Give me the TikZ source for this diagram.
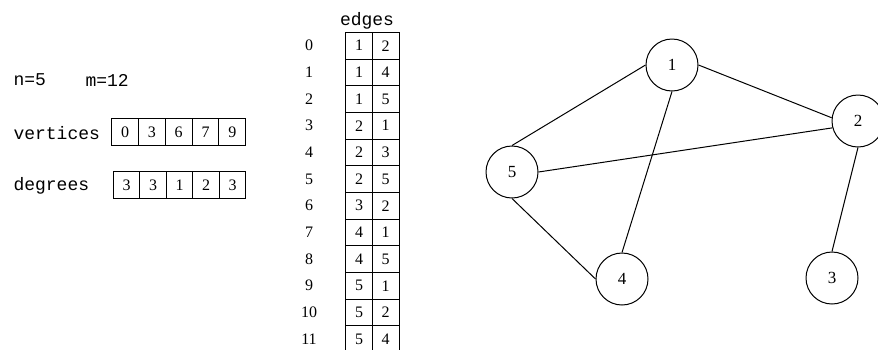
\documentclass[tikz,border=0pt]{standalone}
\usepackage{fontspec}
\setmainfont{Liberation Serif}
\setmonofont{Liberation Mono}
\newcommand*{\word}[1]{\fontsize{18}{20}\selectfont\ttfamily #1}

\tikzset{
  cell/.style={draw,minimum width=26.7pt,minimum height=26.7pt,inner sep=0pt,
    font=\fontsize{16}{18}\selectfont},
  idx/.style={inner sep=0pt,font=\fontsize{16}{18}\selectfont},
  vtx/.style={draw,circle,minimum size=52pt,inner sep=0pt,
    font=\fontsize{17}{20}\selectfont}
}

\begin{document}
\begin{tikzpicture}[x=1pt,y=-1pt,line width=1pt]
\clip (0,0) rectangle (878,349);
% Sizes and the two arrays
\node[anchor=west,inner sep=0pt] (nval) at (13,80) {\word{n=5}};
\node[anchor=west,inner sep=0pt] (mval) at (85,80) {\word{m=12}};
\node[anchor=west,inner sep=0pt] (vert) at (13,133) {\word{vertices}};
\node[anchor=west,inner sep=0pt] (deg) at (13,186) {\word{degrees}};
\foreach \v [count=\i from 0] in {0,3,6,7,9}
  \node[cell] (vt\i) at (125.1+26.8*\i,132.3) {\v};
\foreach \v [count=\i from 0] in {3,3,1,2,3}
  \node[cell] (dg\i) at (126.5+26.5*\i,185) {\v};
% Edge list with its row numbers
\node[inner sep=0pt] (edg) at (367,21) {\word{edges}};
\foreach \a/\b [count=\i from 0] in {1/2,1/4,1/5,2/1,2/3,2/5,3/2,4/1,4/5,5/1,5/2,5/4}
{
  \node[idx] (row\i) at (309,45.7+26.67*\i) {\i};
  \node[cell] (ea\i) at (359,45.7+26.67*\i) {\a};
  \node[cell] (eb\i) at (385.7,45.7+26.67*\i) {\b};
}
% The graph
\node[vtx] (n1) at (672,65) {1};
\node[vtx] (n2) at (858,121) {2};
\node[vtx] (n3) at (832,278) {3};
\node[vtx] (n4) at (622,279) {4};
\node[vtx] (n5) at (512,172) {5};
\draw (n1.west) -- (n5.north);
\draw (n1.south) -- (n4.north);
\draw (n1.east) -- (n2.173);
\draw (n2.195) -- (n5.east);
\draw (n2.south) -- (n3.north);
\draw (n5.south) -- (n4.west);
\end{tikzpicture}
\end{document}
